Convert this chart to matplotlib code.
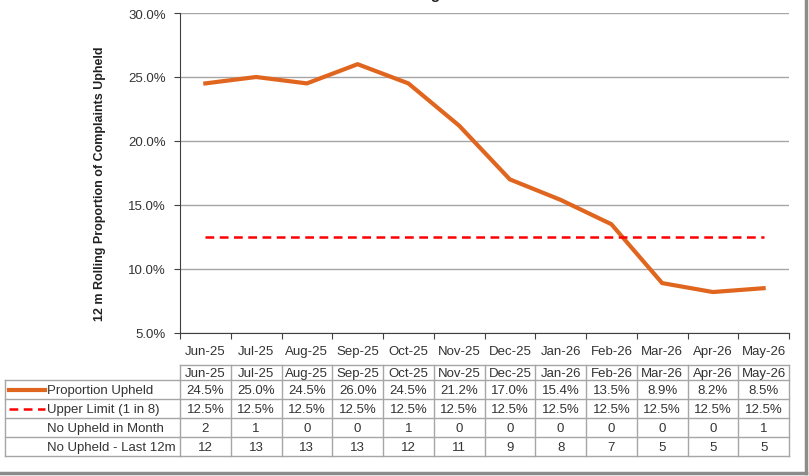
import matplotlib
matplotlib.use("Agg")
from matplotlib import pyplot as plt
from matplotlib.lines import Line2D
from matplotlib.transforms import blended_transform_factory

plt.rcParams['font.family'] = ['Liberation Sans', 'DejaVu Sans']

months = ["Jun-25", "Jul-25", "Aug-25", "Sep-25", "Oct-25", "Nov-25",
          "Dec-25", "Jan-26", "Feb-26", "Mar-26", "Apr-26", "May-26"]
proportion = [24.5, 25.0, 24.5, 26.0, 24.5, 21.2, 17.0, 15.4, 13.5, 8.9, 8.2, 8.5]
upper_limit = [12.5] * 12
upheld_month = [2, 1, 0, 0, 1, 0, 0, 0, 0, 0, 0, 1]
upheld_12m = [12, 13, 13, 13, 12, 11, 9, 8, 7, 5, 5, 5]

W, H = 809, 477
ORANGE = "#E0651E"
TXT = "#333333"
GRID = "#A6A6A6"


def fx(px):
    return px / W


def fy(py):
    return 1 - py / H


fig = plt.figure(figsize=(W / 100, H / 100), dpi=100)
ax = fig.add_axes([fx(180), fy(334), fx(789) - fx(180), fy(14) - fy(334)])

x = list(range(len(months)))
ax.plot(x, proportion, color=ORANGE, lw=3, solid_joinstyle='round', zorder=3)
ax.plot(x, upper_limit, color="#FF0000", lw=1.8, ls=(0, (3.5, 2.2)), zorder=3)

ax.set_xlim(-0.5, len(months) - 0.5)
ax.set_ylim(5, 30)
ax.set_yticks([5, 10, 15, 20, 25, 30])
ax.set_yticklabels(["%.1f%%" % v for v in [5, 10, 15, 20, 25, 30]])
ax.yaxis.grid(True, color=GRID, lw=1)
ax.set_axisbelow(True)
ax.set_xticks([i - 0.5 for i in range(len(months) + 1)])
ax.set_xticklabels([])
ax.set_xticks(x, minor=True)
ax.set_xticklabels(months, minor=True)
ax.tick_params(axis='x', which='minor', length=0, pad=9, labelsize=9.5, labelcolor=TXT)
ax.tick_params(axis='x', which='major', length=4, color="#404040")
ax.tick_params(axis='y', length=4, color="#404040", labelsize=9.5, labelcolor=TXT, pad=6)
for s in ["top", "right"]:
    ax.spines[s].set_visible(False)
ax.spines["left"].set_color("#404040")
ax.spines["bottom"].set_color("#404040")

fig.text(fx(100), fy(184), "12 m Rolling Proportion of Complaints Upheld", rotation=90,
         ha='center', va='center', fontsize=9, fontweight='bold', color="#222222")

# title sits mostly above the canvas, as in the source
fig.text(fx(388), fy(-0.5), "Rolling 12 Month", ha='left', va='baseline',
         fontsize=11, fontweight='bold', color="#222222")

# data table under the chart
bt = blended_transform_factory(ax.transData, fig.transFigure)
rows_y = [366, 381, 400, 419, 438, 457]
left_px = 5
n = len(months)
lk = dict(color=GRID, lw=1)

fig.add_artist(Line2D([-0.5, n - 0.5], [fy(rows_y[0])] * 2, transform=bt, **lk))
for py in rows_y[1:]:
    fig.add_artist(Line2D([fx(left_px), fx(180)], [fy(py)] * 2, transform=fig.transFigure, **lk))
    fig.add_artist(Line2D([-0.5, n - 0.5], [fy(py)] * 2, transform=bt, **lk))
for i in range(n + 1):
    fig.add_artist(Line2D([i - 0.5] * 2, [fy(rows_y[0]), fy(rows_y[-1])], transform=bt, **lk))
fig.add_artist(Line2D([fx(left_px)] * 2, [fy(rows_y[1]), fy(rows_y[-1])],
                      transform=fig.transFigure, **lk))

table_rows = [
    months,
    ["%.1f%%" % v for v in proportion],
    ["%.1f%%" % v for v in upper_limit],
    [str(v) for v in upheld_month],
    [str(v) for v in upheld_12m],
]
for r, vals in enumerate(table_rows):
    yc = fy((rows_y[r] + rows_y[r + 1]) / 2 + 0.5)
    for i, v in enumerate(vals):
        fig.text(i, yc, v, transform=bt, ha='center', va='center', fontsize=9.5, color=TXT)

row_labels = ["Proportion Upheld", "Upper Limit (1 in 8)", "No Upheld in Month", "No Upheld - Last 12m"]
for r, lab in enumerate(row_labels):
    mid = (rows_y[r + 1] + rows_y[r + 2]) / 2
    fig.text(fx(47), fy(mid + 0.5), lab, ha='left', va='center', fontsize=9.5, color=TXT)

mid1 = (rows_y[1] + rows_y[2]) / 2
mid2 = (rows_y[2] + rows_y[3]) / 2
fig.add_artist(Line2D([fx(9), fx(45)], [fy(mid1)] * 2, transform=fig.transFigure,
                      color=ORANGE, lw=3))
fig.add_artist(Line2D([fx(9), fx(45)], [fy(mid2)] * 2, transform=fig.transFigure,
                      color="#FF0000", lw=1.8, ls=(0, (3.5, 2.2))))

# outer frame edges (right and bottom)
fig.add_artist(Line2D([fx(805.5)] * 2, [fy(-5), fy(473.5)], transform=fig.transFigure,
                      color="#8C8C8C", lw=2.5))
fig.add_artist(Line2D([fx(-5), fx(805.5)], [fy(473.5)] * 2, transform=fig.transFigure,
                      color="#8C8C8C", lw=2.5))

fig.savefig("out.png", dpi=100)
